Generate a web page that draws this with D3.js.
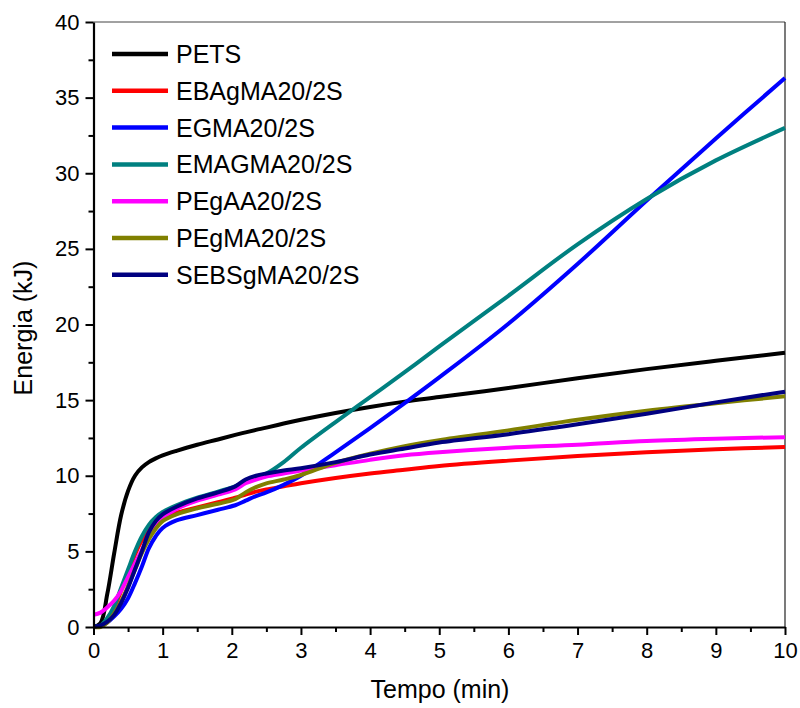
<!DOCTYPE html>
<html>
<head>
<meta charset="utf-8">
<script src="https://cdn.jsdelivr.net/npm/d3@7"></script>
<style>
  html, body { margin: 0; padding: 0; background: #fff; }
  svg { display: block; font-family: "Liberation Sans", Arial, sans-serif; }
</style>
</head>
<body>
<svg id="chart" width="800" height="708"></svg>
<script>
// ---- data ----
const time = [0,0.1,0.2,0.3,0.4,0.5,0.6,0.7,0.8,0.9,1.0,1.2,1.5,1.8,2.05,2.2,2.35,2.5,2.75,3,3.5,4,4.5,5,6,7,8,9,10];

const seriesNames = ["PETS","EBAgMA20/2S","EGMA20/2S","EMAGMA20/2S","PEgAA20/2S","PEgMA20/2S","SEBSgMA20/2S"];
const seriesColors = ["#000000","#ff0000","#0000ff","#008080","#ff00ff","#808000","#000080"];

const PETS     = [0,0.25,2.2,4.9,7.4,9.0,10.0,10.55,10.9,11.15,11.35,11.65,12.05,12.4,12.7,12.87,13.03,13.18,13.45,13.7,14.15,14.55,14.9,15.2,15.8,16.45,17.05,17.6,18.13];
const EBAgMA   = [0,0.05,0.5,1.3,2.4,3.6,4.8,5.75,6.5,7.0,7.25,7.55,7.9,8.25,8.55,8.75,8.95,9.1,9.3,9.5,9.85,10.15,10.4,10.65,11.0,11.3,11.55,11.75,11.9];
const EGMA     = [0,0.05,0.3,0.7,1.2,1.9,2.9,4.0,5.2,6.0,6.55,7.05,7.4,7.75,8.05,8.35,8.65,8.9,9.4,10.0,11.55,13.15,14.8,16.5,20.05,24.0,28.2,32.3,36.3];
const EMAGMA   = [0,0.1,0.6,1.4,2.6,3.8,5.0,6.0,6.75,7.25,7.6,8.05,8.55,8.95,9.3,9.65,9.95,10.15,10.9,11.85,13.55,15.2,16.85,18.55,21.9,25.3,28.3,30.85,33.0];
const PEgAA    = [0.8,0.95,1.3,1.75,2.4,3.3,4.2,5.1,6.0,6.7,7.2,7.8,8.35,8.75,9.1,9.5,9.75,9.95,10.15,10.35,10.7,11.05,11.35,11.55,11.85,12.05,12.3,12.45,12.55];
const PEgMA    = [0,0.0,0.3,0.9,1.7,2.7,3.8,4.9,5.8,6.5,7.0,7.45,7.85,8.15,8.45,8.9,9.25,9.5,9.75,10.05,10.85,11.45,11.95,12.35,13.0,13.7,14.3,14.8,15.25];
const SEBSgMA  = [0,0.1,0.35,0.8,1.6,2.6,3.8,5.0,6.25,7.0,7.45,7.95,8.5,8.9,9.3,9.75,10.0,10.15,10.35,10.5,10.9,11.4,11.8,12.2,12.75,13.4,14.1,14.85,15.56];

const seriesValues = [PETS, EBAgMA, EGMA, EMAGMA, PEgAA, PEgMA, SEBSgMA];

const xTicks = [0,1,2,3,4,5,6,7,8,9,10];
const yTicks = [0,5,10,15,20,25,30,35,40];
const xMinor = [0.5,1.5,2.5,3.5,4.5,5.5,6.5,7.5,8.5,9.5];
const yMinor = [2.5,7.5,12.5,17.5,22.5,27.5,32.5,37.5];

// ---- layout ----
const L = 93.5, R = 785, T = 22, B = 627;
const svg = d3.select("#chart");
const x = d3.scaleLinear().domain([0,10]).range([L,R]);
const y = d3.scaleLinear().domain([0,40]).range([B,T]);

// frame top/right
svg.append("line").attr("x1",L).attr("x2",R).attr("y1",T).attr("y2",T).attr("stroke","#444").attr("stroke-width",1);
svg.append("line").attr("x1",R).attr("x2",R).attr("y1",T).attr("y2",B).attr("stroke","#222").attr("stroke-width",1.2);

// lines
const line = d3.line().x(d=>x(d[0])).y(d=>y(d[1])).curve(d3.curveCatmullRom.alpha(0.5));
const g = svg.append("g");
seriesValues.forEach((vals,i)=>{
  g.append("path")
    .datum(time.map((t,j)=>[t,vals[j]]))
    .attr("fill","none")
    .attr("stroke",seriesColors[i])
    .attr("stroke-width",4)
    .attr("stroke-linejoin","round")
    .attr("d",line);
});

// axes
svg.append("g").attr("transform",`translate(0,${B})`)
  .call(d3.axisBottom(x).tickValues(xTicks).tickFormat(d3.format("d")).tickSizeInner(8).tickSizeOuter(0).tickPadding(7));
svg.append("g").attr("transform",`translate(0,${B})`)
  .call(d3.axisBottom(x).tickValues(xMinor).tickFormat("").tickSizeInner(5).tickSizeOuter(0))
  .call(g=>g.select(".domain").remove());
svg.append("g").attr("transform",`translate(${L},0)`)
  .call(d3.axisLeft(y).tickValues(yTicks).tickFormat(d3.format("d")).tickSizeInner(8).tickSizeOuter(0).tickPadding(6));
svg.append("g").attr("transform",`translate(${L},0)`)
  .call(d3.axisLeft(y).tickValues(yMinor).tickFormat("").tickSizeInner(5).tickSizeOuter(0))
  .call(g=>g.select(".domain").remove());

svg.selectAll(".domain").attr("stroke","#000").attr("stroke-width",2.2);
svg.selectAll(".tick line").attr("stroke","#000").attr("stroke-width",2);
svg.selectAll(".tick text").attr("font-size",22).attr("fill","#000").attr("font-family","Liberation Sans, Arial, sans-serif");

// axis titles
svg.append("text").attr("x",440).attr("y",698).attr("text-anchor","middle")
  .attr("font-size",25).text("Tempo (min)");
svg.append("text").attr("transform",`translate(32,${328}) rotate(-90)`).attr("text-anchor","middle")
  .attr("font-size",25).text("Energia (kJ)");

// legend
const leg = svg.append("g");
seriesNames.forEach((n,i)=>{
  const yy = 54 + i*36.8;
  leg.append("line").attr("x1",112).attr("x2",168).attr("y1",yy).attr("y2",yy)
    .attr("stroke",seriesColors[i]).attr("stroke-width",4.5);
  leg.append("text").attr("x",176).attr("y",yy+9).attr("font-size",25).attr("fill","#000").text(n);
});
</script>
</body>
</html>
